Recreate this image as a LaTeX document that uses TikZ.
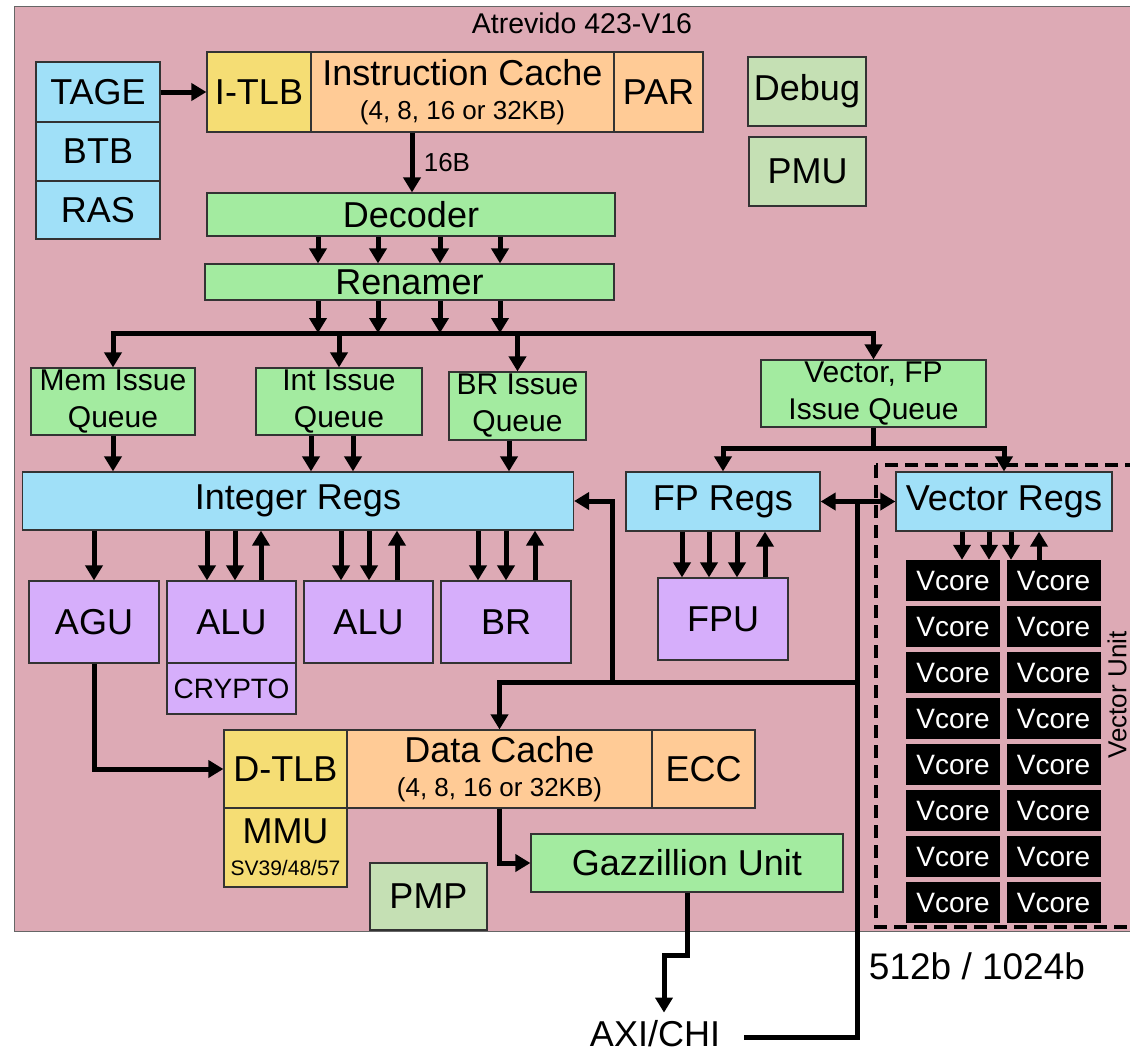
\documentclass[tikz,border=0pt]{standalone}
\usepackage{fontspec}
\setmainfont{Liberation Sans}
\usepackage{tikz}
\usetikzlibrary{arrows.meta}
\definecolor{rosa}{HTML}{DDAAB5}
\definecolor{azzurro}{HTML}{A0E0F8}
\definecolor{arancio}{HTML}{FFCB96}
\definecolor{giallo}{HTML}{F5DD74}
\definecolor{verde}{HTML}{A3EBA0}
\definecolor{verdino}{HTML}{C5E0B4}
\definecolor{viola}{HTML}{D6AEFB}
\newcommand{\fgrande}{\fontsize{36}{38}\selectfont}
\newcommand{\fmedio}{\fontsize{30}{37}\selectfont}
\newcommand{\fpiccolo}{\fontsize{26}{28}\selectfont}

\begin{document}
\begin{tikzpicture}[x=1pt, y=-1pt,
    blocco/.style={draw=black!80, line width=1.2pt, inner sep=0pt, align=center, font=\fgrande},
    freccia/.style={line width=5pt, -{Triangle[length=15pt,width=17pt]}},
    doppia/.style={line width=5pt, {Triangle[length=15pt,width=17pt]}-{Triangle[length=15pt,width=17pt]}},
    filo/.style={line width=5pt},
    vcore/.style={fill=black, text=white, inner sep=0pt, minimum width=94pt, minimum height=41pt, font=\fontsize{28}{30}\selectfont}]
        \useasboundingbox (0,0) rectangle (1130,1053);
        % sfondo del core
        \draw[fill=rosa, draw=black!60, line width=1pt] (14,6) rectangle (1140,931);
        \node[font=\fontsize{28.5}{30}\selectfont] (titolo) at (582,23) {Atrevido 423-V16};
        % front-end
        \node[blocco, fill=azzurro, minimum width=124pt, minimum height=60pt] (tage) at (98,92) {TAGE};
        \node[blocco, fill=azzurro, minimum width=124pt, minimum height=59pt] (btb) at (98,151.5) {BTB};
        \node[blocco, fill=azzurro, minimum width=124pt, minimum height=58pt] (ras) at (98,210) {RAS};
        \node[blocco, fill=giallo, minimum width=104pt, minimum height=80pt] (itlb) at (259,92) {I-TLB};
        \node[blocco, fill=arancio, minimum width=303pt, minimum height=80pt] (icache) at (462.5,92)
            {Instruction Cache\\[-4pt]\fpiccolo (4, 8, 16 or 32KB)};
        \node[blocco, fill=arancio, minimum width=89pt, minimum height=80pt] (par) at (658.5,92) {PAR};
        \node[blocco, fill=verdino, minimum width=118pt, minimum height=69pt] (debug) at (807,91.5) {Debug};
        \node[blocco, fill=verdino, minimum width=117pt, minimum height=69pt] (pmu) at (807.5,171.5) {PMU};
        \node[blocco, fill=verde, minimum width=408pt, minimum height=43pt] (decoder) at (411,214.5) {Decoder};
        \node[blocco, fill=verde, minimum width=409pt, minimum height=36pt] (renamer) at (409.5,282) {Renamer};
        % code di issue
        \node[blocco, fill=verde, font=\fmedio, minimum width=164pt, minimum height=67pt] (memiq) at (113,401.5) {Mem Issue\\Queue};
        \node[blocco, fill=verde, font=\fmedio, minimum width=166pt, minimum height=67pt] (intiq) at (339,401.5) {Int Issue\\Queue};
        \node[blocco, fill=verde, font=\fmedio, minimum width=137pt, minimum height=68pt] (briq) at (517.5,406) {BR Issue\\Queue};
        \node[blocco, fill=verde, font=\fmedio, minimum width=225pt, minimum height=67pt] (vfpiq) at (873.5,393.5) {Vector, FP\\Issue Queue};
        % registri
        \node[blocco, fill=azzurro, minimum width=551pt, minimum height=58pt] (intregs) at (298,501) {Integer Regs};
        \node[blocco, fill=azzurro, minimum width=194pt, minimum height=59pt] (fpregs) at (723,501.5) {FP Regs};
        \node[blocco, fill=azzurro, minimum width=216pt, minimum height=59pt] (vecregs) at (1004,501.5) {Vector Regs};
        % unita funzionali
        \node[blocco, fill=viola, minimum width=130pt, minimum height=82pt] (agu) at (94,622) {AGU};
        \node[blocco, fill=viola, minimum width=129pt, minimum height=82pt] (alua) at (231.5,622) {ALU};
        \node[blocco, fill=viola, font=\fontsize{28}{30}\selectfont, minimum width=129pt, minimum height=51pt] (crypto) at (231.5,688.5) {CRYPTO};
        \node[blocco, fill=viola, minimum width=129pt, minimum height=82pt] (alub) at (368.5,622) {ALU};
        \node[blocco, fill=viola, minimum width=130pt, minimum height=82pt] (br) at (506,622) {BR};
        \node[blocco, fill=viola, minimum width=130pt, minimum height=82pt] (fpu) at (723,619) {FPU};
        % memoria
        \node[blocco, fill=giallo, minimum width=123pt, minimum height=78pt] (dtlb) at (285.5,769) {D-TLB};
        \node[blocco, fill=giallo, minimum width=123pt, minimum height=79pt] (mmu) at (285.5,847.5)
            {MMU\\[-6pt]\fontsize{21}{23}\selectfont SV39/48/57};
        \node[blocco, fill=arancio, minimum width=305pt, minimum height=78pt] (dcache) at (499.5,769)
            {Data Cache\\[-4pt]\fpiccolo (4, 8, 16 or 32KB)};
        \node[blocco, fill=arancio, minimum width=103pt, minimum height=78pt] (ecc) at (703.5,769) {ECC};
        \node[blocco, fill=verde, minimum width=312pt, minimum height=58pt] (gazz) at (687,863) {Gazzillion Unit};
        \node[blocco, fill=verdino, minimum width=117pt, minimum height=67pt] (pmp) at (428.5,896.5) {PMP};
        % unita vettoriale
        \draw[line width=4pt, dash pattern=on 13pt off 7pt] (876,465) rectangle (1145,927);
        \foreach \r in {0,...,7} {
            \node[vcore] (vc\r a) at (953,{580.5+46*\r}) {Vcore};
            \node[vcore] (vc\r b) at (1053.5,{580.5+46*\r}) {Vcore};
        }
        \node[rotate=90, font=\fontsize{26}{28}\selectfont, inner sep=0pt] (vunit) at (1117,695) {Vector Unit};
        % fuori dal core
        \node[font=\fgrande, inner sep=0pt] (axi) at (655,1034) {AXI/CHI};
        \node[font=\fontsize{37}{39}\selectfont, inner sep=0pt] (bus) at (977,966) {512b / 1024b};
        % frecce front-end
        \draw[freccia] (tage) -- (itlb);
        \draw[freccia] (icache.south -| 412,0) -- (decoder.north -| 412,0)
            node[midway, right=6pt, font=\fpiccolo] (lbl16) {16B};
        \foreach \x in {318,378,440,500} {
            \draw[freccia] (decoder.south -| \x,0) -- (renamer.north -| \x,0);
            \draw[freccia] (renamer.south -| \x,0) -- (\x,333);
        }
        % dispatch
        \coordinate (dsp) at (339,333);
        \draw[freccia] (dsp -| vfpiq.north) -| (memiq.north);
        \draw[freccia] (dsp) -| (vfpiq.north);
        \draw[freccia] (dsp) -- (intiq.north);
        \draw[freccia] (dsp -| briq.north) -- (briq.north);
        \draw[freccia] (memiq.south) -- (memiq.south |- intregs.north);
        \foreach \x in {311,353}
            \draw[freccia] (intiq.south -| \x,0) -- (intregs.north -| \x,0);
        \draw[freccia] (briq.south -| 509,0) -- (intregs.north -| 509,0);
        \draw[filo] (vfpiq.south) -- ++(0,21) coordinate (vsp);
        \draw[freccia] (vsp) -| (fpregs.north);
        \draw[freccia] (vsp) -| (vecregs.north);
        % registri -> unita
        \draw[freccia] (intregs.south -| agu.north) -- (agu.north);
        \foreach \u/\a/\b/\c in {alua/207/235/261, alub/341/369/397, br/478/506/535} {
            \draw[freccia] (intregs.south -| \a,0) -- (\u.north -| \a,0);
            \draw[freccia] (intregs.south -| \b,0) -- (\u.north -| \b,0);
            \draw[freccia] (\u.north -| \c,0) -- (intregs.south -| \c,0);
        }
        \foreach \x in {682,709,737}
            \draw[freccia] (fpregs.south -| \x,0) -- (fpu.north -| \x,0);
        \draw[freccia] (fpu.north -| 765,0) -- (fpregs.south -| 765,0);
        \foreach \x in {962,989,1011}
            \draw[freccia] (vecregs.south -| \x,0) -- (vc0a.north -| \x,0);
        \draw[freccia] (vc0b.north -| 1039,0) -- (vecregs.south -| 1039,0);
        % rete dati
        \draw[doppia] (fpregs) -- (vecregs);
        \draw[filo] (fpregs.east -| 857,0) |- ([xshift=24pt,yshift=-3pt]axi.east);
        \coordinate (nodo) at (857,682);
        \draw[freccia] (nodo) -| (dcache.north);
        \draw[freccia] (nodo -| 612,0) |- (intregs.east);
        \draw[freccia] (agu.south) |- (dtlb.west);
        \draw[freccia] (dcache.south) |- (gazz.west);
        \draw[freccia] (gazz.south) -- ++(0,63) -| ([xshift=9pt,yshift=8pt]axi.north);
    \end{tikzpicture}
\end{document}
